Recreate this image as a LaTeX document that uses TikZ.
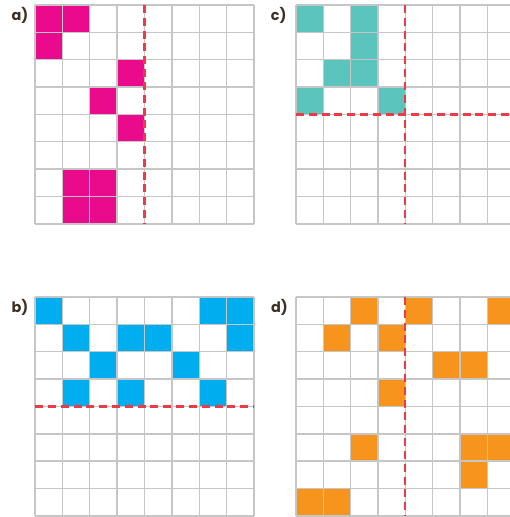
\documentclass[tikz,border=0pt]{standalone}
\usepackage{fontspec}
\setmainfont{Poppins}
\usepackage{tikz}
\usetikzlibrary{calc, positioning}
\usepackage{xcolor}
\definecolor{pinkcell}{HTML}{EA0A8C}
\definecolor{tealcell}{HTML}{5BC4BD}
\definecolor{bluecell}{HTML}{00AEEF}
\definecolor{orangecell}{HTML}{F7941D}
\definecolor{gridgray}{HTML}{C6C6C6}
\definecolor{cutred}{HTML}{EE3A45}
\definecolor{labelbrown}{HTML}{3D3026}

\begin{document}
\begin{tikzpicture}[x=0.6cm, y=-0.6cm,
  gridline/.style={draw=gridgray, line width=0.9pt},
  cutline/.style={draw=cutred, line width=1.4pt, dash pattern=on 5pt off 3pt},
  parttag/.style={font=\bfseries\fontsize{9}{10}\selectfont, text=labelbrown, inner sep=0pt}]
\useasboundingbox (0,0) rectangle (18.63,18.89);
\clip (0,0) rectangle (18.63,18.89);

% Part a
\node[parttag] (taga) at (0.73,0.58) {a)};
\begin{scope}[shift={(1.28,0.18)}]
\foreach \c/\r in {0/0,1/0,0/1,3/2,2/3,3/4,1/6,2/6,1/7,2/7}
  \fill[pinkcell] (\c,\r) rectangle ++(1,1);
\foreach \i in {0,...,8} {
  \draw[gridline] (\i,0) -- (\i,8);
  \draw[gridline] (0,\i) -- (8,\i);
}
\draw[cutline] (4,0) -- (4,8);
\end{scope}

% Part c
\node[parttag] (tagc) at (10.18,0.58) {c)};
\begin{scope}[shift={(10.81,0.18)}]
\foreach \c/\r in {0/0,2/0,2/1,1/2,2/2,0/3,3/3}
  \fill[tealcell] (\c,\r) rectangle ++(1,1);
\foreach \i in {0,...,8} {
  \draw[gridline] (\i,0) -- (\i,8);
  \draw[gridline] (0,\i) -- (8,\i);
}
\draw[cutline] (4,0) -- (4,8);
\draw[cutline] (0,4) -- (8,4);
\end{scope}

% Part b
\node[parttag] (tagb) at (0.73,11.25) {b)};
\begin{scope}[shift={(1.28,10.85)}]
\foreach \c/\r in {0/0,6/0,7/0,1/1,3/1,4/1,7/1,2/2,5/2,1/3,3/3,6/3}
  \fill[bluecell] (\c,\r) rectangle ++(1,1);
\foreach \i in {0,...,8} {
  \draw[gridline] (\i,0) -- (\i,8);
  \draw[gridline] (0,\i) -- (8,\i);
}
\draw[cutline] (0,4) -- (8,4);
\end{scope}

% Part d
\node[parttag] (tagd) at (10.21,11.25) {d)};
\begin{scope}[shift={(10.81,10.85)}]
\foreach \c/\r in {2/0,4/0,7/0,1/1,3/1,5/2,6/2,3/3,2/5,6/5,7/5,6/6,0/7,1/7}
  \fill[orangecell] (\c,\r) rectangle ++(1,1);
\foreach \i in {0,...,8} {
  \draw[gridline] (\i,0) -- (\i,8);
  \draw[gridline] (0,\i) -- (8,\i);
}
\draw[cutline] (4,0) -- (4,8);
\end{scope}
\end{tikzpicture}
\end{document}
